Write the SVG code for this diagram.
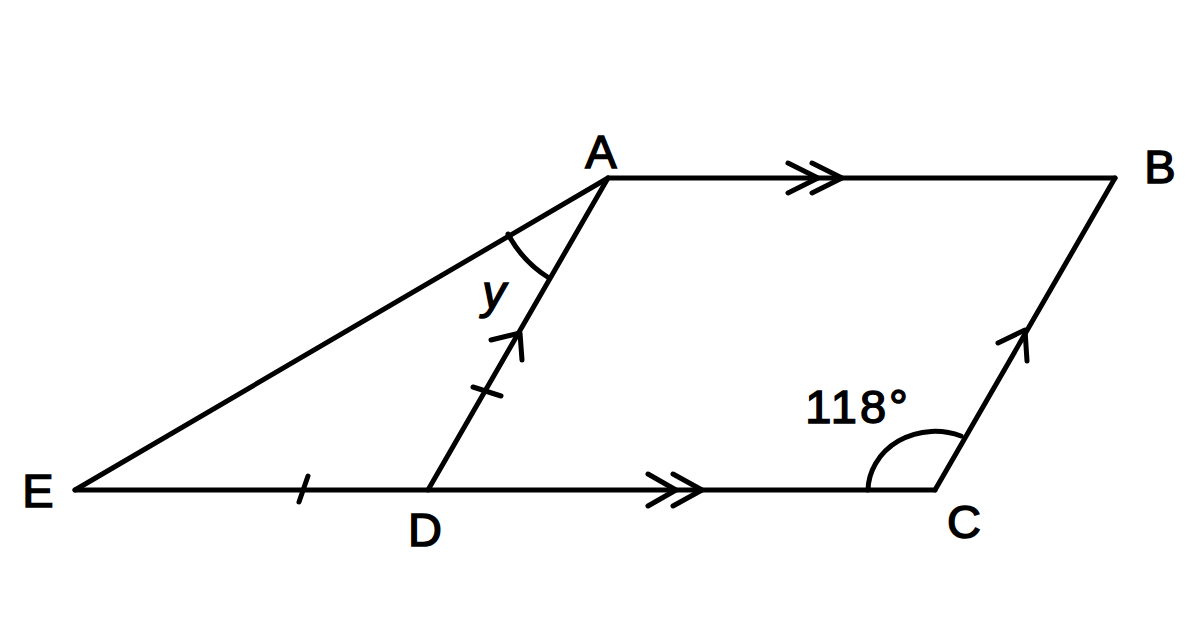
<svg xmlns="http://www.w3.org/2000/svg" width="1200" height="630" viewBox="0 0 1200 630">
<style>
.ln{fill:none;stroke:#000;stroke-width:5;stroke-linecap:round;stroke-linejoin:round}
.mk{fill:none;stroke:#000;stroke-width:5;stroke-linecap:round;stroke-linejoin:round}
.lb{font-family:"Liberation Sans",Arial,sans-serif;font-size:47px;fill:#000;stroke:#000;stroke-width:1.5}
</style>
<rect width="1200" height="630" fill="#fff"/>
<g id="connectors">
<path class="ln" d="M608 178 L1115 178"/>
<path class="ln" d="M1115 178 L935 490"/>
<path class="ln" d="M935 490 L75 490"/>
<path class="ln" d="M75 490 L608 178"/>
<path class="ln" d="M608 178 L428 490"/>
<path class="mk" d="M788 163 L818 178 L788 193 M812 163 L842 178 L812 193"/>
<path class="mk" d="M648 474 L676 490 L648 506 M673 474 L702 490 L673 506"/>
<path class="mk" d="M491 340 L520 333 L522 360"/>
<path class="mk" d="M998 343 L1025 330 L1027 361"/>
<path class="mk" d="M473 387 L501 396"/>
<path class="mk" d="M308 476 L299 502"/>
<path class="mk" d="M508 234 A115 115 0 0 0 549 278"/>
<path class="mk" d="M868 490 A67 60 0 0 1 961 436"/>
</g>
<g id="A"><text class="lb" x="601" y="168" text-anchor="middle">A</text></g>
<g id="B"><text class="lb" x="1160" y="183" text-anchor="middle">B</text></g>
<g id="C"><text class="lb" x="964" y="538" text-anchor="middle">C</text></g>
<g id="D"><text class="lb" x="425" y="546" text-anchor="middle">D</text></g>
<g id="E"><text class="lb" x="38" y="507" text-anchor="middle">E</text></g>
<g id="y"><text class="lb" x="494" y="308" text-anchor="middle" font-style="italic" font-size="50">y</text></g>
<g id="angle118"><text class="lb" x="858" y="423" text-anchor="middle" letter-spacing="3">118°</text></g>
</svg>
